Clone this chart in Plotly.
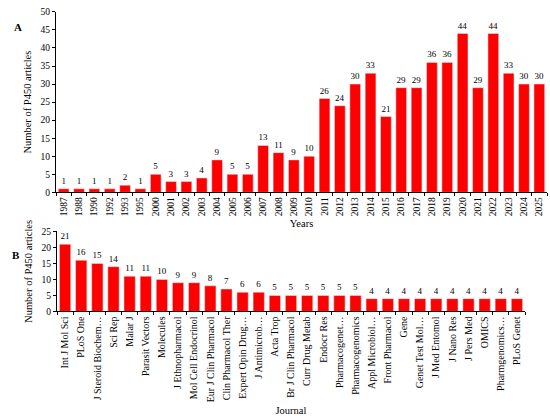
import plotly.graph_objects as go

# Panel A: articles per year
years = ["1987", "1988", "1990", "1992", "1993", "1995", "2000", "2001", "2002",
         "2003", "2004", "2005", "2006", "2007", "2008", "2009", "2010", "2011",
         "2012", "2013", "2014", "2015", "2016", "2017", "2018", "2019", "2020",
         "2021", "2022", "2023", "2024", "2025"]
year_counts = [1, 1, 1, 1, 2, 1, 5, 3, 3, 4, 9, 5, 5, 13, 11, 9, 10, 26,
               24, 30, 33, 21, 29, 29, 36, 36, 44, 29, 44, 33, 30, 30]

# Panel B: articles per journal
journals = ["Int J Mol Sci", "PLoS One", "J Steroid Biochem…", "Sci Rep", "Malar J",
            "Parasit Vectors", "Molecules", "J Ethnopharmacol", "Mol Cell Endocrinol",
            "Eur J Clin Pharmacol", "Clin Pharmacol Ther", "Expert Opin Drug…",
            "J Antimicrob…", "Acta Trop", "Br J Clin Pharmacol", "Curr Drug Metab",
            "Endocr Res", "Pharmacogenet…", "Pharmacogenomics", "Appl Microbiol…",
            "Front Pharmacol", "Gene", "Genet Test Mol…", "J Med Entomol",
            "J Nano Res", "J Pers Med", "OMICS", "Pharmgenomics…", "PLoS Genet"]
journal_counts = [21, 16, 15, 14, 11, 11, 10, 9, 9, 8, 7, 6, 6, 5, 5, 5, 5, 5, 5,
                  4, 4, 4, 4, 4, 4, 4, 4, 4, 4]

FONT = "Liberation Serif, Times New Roman, serif"
W, H = 550, 416

fig = go.Figure()
fig.add_trace(go.Bar(x=years, y=year_counts, marker_color="#FF0000",
                     text=year_counts, textposition="outside", cliponaxis=False,
                     textfont=dict(size=9, color="black", family=FONT),
                     xaxis="x", yaxis="y"))
fig.add_trace(go.Bar(x=journals, y=journal_counts, marker_color="#FF0000",
                     text=journal_counts, textposition="outside", cliponaxis=False,
                     textfont=dict(size=9, color="black", family=FONT),
                     xaxis="x2", yaxis="y2"))

axis_style = dict(showline=True, linecolor="black", linewidth=1, showgrid=False,
                  ticks="outside", ticklen=3, tickcolor="black", zeroline=False)
tick_font = dict(size=9.5, family=FONT, color="black")

fig.update_layout(
    width=W, height=H,
    margin=dict(l=0, r=0, t=0, b=0),
    paper_bgcolor="white", plot_bgcolor="white",
    showlegend=False, bargap=0.3,
    font=dict(family=FONT, color="black"),
    xaxis=dict(domain=[56 / W, 547 / W], anchor="y", tickangle=-90,
               tickson="boundaries", type="category", tickfont=tick_font,
               title=dict(text="Years", font=dict(size=10.5), standoff=4),
               **axis_style),
    yaxis=dict(domain=[1 - 192 / H, 1 - 7 / H], anchor="x", range=[0, 50],
               dtick=5, tickfont=tick_font,
               title=dict(text="Number of P450 articles", font=dict(size=10.5),
                          standoff=6),
               **axis_style),
    xaxis2=dict(domain=[57 / W, 525 / W], anchor="y2", tickangle=-90,
                tickson="boundaries", type="category",
                tickfont=dict(size=10, family=FONT, color="black"),
                title=dict(text="Journal", font=dict(size=10.5), standoff=6),
                **axis_style),
    yaxis2=dict(domain=[1 - 314 / H, 1 - 232 / H], anchor="x2", range=[0, 25],
                dtick=5, tickfont=tick_font,
                title=dict(text="Number of P450 articles", font=dict(size=10.5),
                           standoff=6),
                **axis_style),
    annotations=[
        dict(text="<b>A</b>", x=12 / W, y=1 - 14 / H, xref="paper", yref="paper",
             showarrow=False, font=dict(size=11, family=FONT)),
        dict(text="<b>B</b>", x=10 / W, y=1 - 256 / H, xref="paper", yref="paper",
             showarrow=False, font=dict(size=11, family=FONT)),
    ],
)

fig.write_html("out.html", config={"displayModeBar": False},
               post_script="document.body.style.margin='0';")
